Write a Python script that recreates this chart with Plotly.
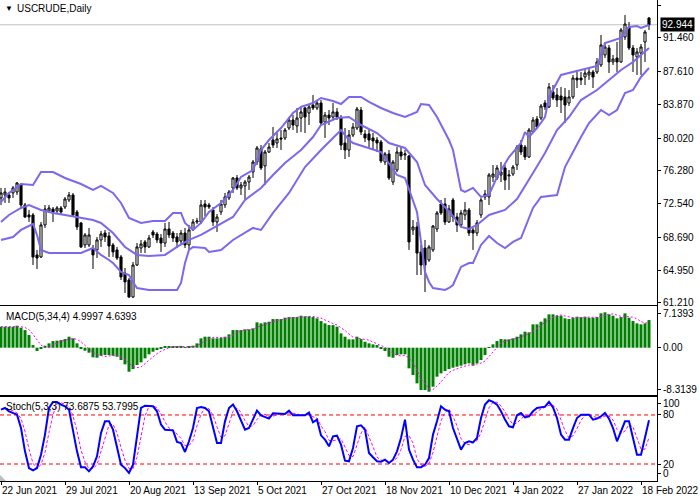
import plotly.graph_objects as go
import pandas as pd

# ---------------- data ----------------
open_ = [73.19,73.53,73.53,73.76,73.87,74.67,72.39,71.25,71.25,66.69,
         66.46,70.11,71.70,71.93,71.70,72.05,72.16,72.96,73.53,71.59,
         70.34,67.83,67.83,67.48,67.26,68.40,69.19,68.85,67.83,67.26,
         66.46,64.63,63.83,61.89,65.54,67.48,68.17,67.60,69.31,69.08,
         68.62,68.05,69.65,69.19,68.74,68.28,69.19,67.83,69.54,70.45,
         70.45,72.50,72.39,71.82,70.45,71.59,72.39,73.19,74.33,75.47,
         74.33,74.56,75.01,76.15,77.29,78.78,76.84,78.43,79.80,79.46,
         80.03,80.03,81.17,82.08,81.40,82.31,83.45,82.88,83.79,83.45,
         84.02,81.85,82.65,82.42,83.00,82.31,79.46,78.66,80.37,81.17,
         83.22,80.49,80.49,80.03,79.80,79.57,77.29,78.21,75.01,76.38,
         78.43,78.09,77.98,69.54,69.88,67.03,67.48,66.11,67.26,69.65,
         72.50,72.50,70.45,72.96,71.02,70.11,71.25,71.82,69.54,69.19,
         71.25,73.30,73.30,75.58,75.47,75.81,76.61,75.70,75.92,76.95,
         79.23,79.00,77.86,80.71,82.20,82.31,84.02,83.57,85.28,84.93,
         84.82,84.71,84.02,84.71,86.87,86.87,86.99,87.22,87.56,87.56,
         88.36,89.50,90.30,88.70,89.15,88.70,91.55,92.69,90.30,89.27,
         89.72,90.98,93.72]
high = [74.33,74.33,73.87,74.56,75.01,74.90,72.62,71.82,71.48,67.26,
        70.45,72.39,72.39,72.16,72.27,72.27,73.30,73.87,73.76,71.82,
        70.45,69.19,69.77,67.83,68.74,69.42,69.54,69.31,68.05,67.60,
        66.69,65.20,64.06,65.89,68.05,68.40,68.40,68.97,69.54,69.31,
        69.08,70.34,70.45,69.42,69.19,69.54,69.77,70.11,70.79,70.91,
        72.96,72.96,72.62,72.16,71.36,72.96,73.76,74.10,75.58,75.81,
        75.01,75.24,75.81,77.52,79.12,79.23,78.66,79.46,81.28,80.60,
        80.94,81.17,82.42,82.65,83.45,83.45,83.57,83.91,84.93,84.36,
        84.36,83.00,83.22,84.02,83.45,82.65,81.17,80.94,81.74,83.57,
        83.57,80.94,80.94,80.60,80.14,79.80,78.43,78.66,77.52,79.00,
        79.00,78.66,78.09,70.68,70.45,67.83,68.40,67.83,70.11,71.70,
        72.96,73.19,72.39,73.19,71.48,71.82,72.73,72.05,69.77,70.68,
        73.19,74.10,76.04,76.95,76.95,77.29,76.95,76.38,76.95,79.23,
        79.80,79.23,81.17,82.42,82.54,83.91,84.36,86.30,86.07,85.73,
        85.85,85.73,85.50,87.22,87.79,87.56,87.79,88.01,87.79,89.15,
        91.78,90.98,90.64,89.50,90.98,92.58,94.06,93.26,90.64,90.30,
        90.75,92.35,93.83]
low = [72.39,72.62,72.62,73.19,73.53,72.05,70.91,70.45,65.54,65.09,
       66.34,69.77,71.48,70.45,71.48,71.36,71.93,72.73,71.02,69.54,
       67.48,67.48,67.60,65.09,66.34,67.60,68.17,66.46,66.46,66.11,
       63.83,62.35,61.78,61.78,65.43,66.91,66.91,67.48,68.62,68.05,
       67.03,67.60,68.62,68.17,67.48,67.83,67.48,67.26,69.42,70.22,
       70.22,71.13,71.93,69.99,69.31,71.25,72.05,72.96,73.76,74.10,
       73.53,72.96,74.10,75.47,76.95,76.38,74.67,78.32,78.89,78.89,
       78.66,79.80,80.94,80.94,80.60,80.71,80.60,81.51,83.22,83.22,
       81.51,80.03,81.51,82.08,82.08,78.66,77.63,77.86,80.14,80.94,
       80.37,79.57,78.89,78.66,78.43,77.18,76.95,75.24,74.67,76.15,
       77.52,77.52,67.26,68.97,64.40,64.40,62.46,65.89,67.03,69.31,
       71.25,70.11,70.34,70.45,69.31,69.88,70.68,68.85,67.26,68.85,
       70.91,72.96,72.39,75.01,75.24,75.01,74.10,74.10,75.70,76.38,
       78.09,77.52,77.75,80.60,81.17,82.08,83.22,83.45,84.36,83.57,
       82.88,81.74,83.68,84.48,85.73,86.07,86.07,86.65,85.73,87.33,
       88.13,89.15,87.44,88.36,87.56,88.59,91.21,90.07,87.56,87.22,
       87.22,88.70,92.35]
close = [73.76,73.87,73.19,74.33,74.90,72.39,71.02,71.02,66.46,66.34,
         70.11,71.93,72.05,71.59,72.05,71.59,73.07,73.53,71.25,69.88,
         67.60,68.97,68.97,66.69,68.40,69.08,68.74,67.71,67.03,66.34,
         64.18,63.61,61.89,65.54,67.60,67.94,67.60,68.62,68.97,68.40,
         68.05,69.65,68.97,68.62,68.17,69.19,67.83,69.54,70.45,70.56,
         72.39,72.16,72.16,70.45,71.02,72.50,73.30,73.87,75.47,74.33,
         74.67,75.01,75.58,77.29,78.89,76.61,78.43,79.00,79.23,79.92,
         79.92,80.94,82.08,81.51,82.31,83.00,82.42,83.57,83.45,84.02,
         81.74,82.65,82.31,83.00,82.42,79.23,78.66,80.37,81.28,83.34,
         80.71,80.03,79.80,79.69,79.46,77.41,78.21,75.47,77.29,78.43,
         77.98,78.21,68.17,69.88,66.91,65.54,65.54,67.60,69.99,71.48,
         71.48,70.45,71.93,71.02,70.11,71.48,71.82,69.19,69.19,70.34,
         72.96,73.64,75.81,75.92,76.61,76.15,75.24,75.81,76.72,79.00,
         78.43,77.86,80.94,82.08,81.28,83.68,83.57,85.85,84.59,84.36,
         84.36,83.79,84.71,86.87,86.65,86.65,87.44,87.56,86.99,88.70,
         90.64,90.41,88.70,89.04,88.70,92.35,93.03,90.30,89.50,89.84,
         90.41,92.12,92.944]

# Bollinger bands (20,2): bar index -> level
upper_idx = [0,2,5,8,10,13,16,20,23,25,28,30,32,35,38,41,43,45,46,48,50,52,55,58,60,
             63,65,67,70,73,75,78,80,83,85,87,90,92,95,98,101,104,105,107,109,112,113,
             115,116,118,120,122,124,127,130,131,132,134,136,137,140,142,145,149,151,
             154,155,157,159,160,162]
upper_val = [72.73,73.76,74.78,74.67,76.15,76.15,75.47,74.78,74.10,74.56,73.76,72.62,
             70.91,70.34,70.56,70.56,71.48,71.48,70.34,69.54,70.34,71.59,72.62,74.10,
             75.58,76.38,78.66,79.80,81.17,82.88,83.57,84.02,84.59,84.25,83.91,84.71,
             84.71,84.14,83.45,82.88,82.42,83.00,83.91,83.79,82.42,79.80,78.66,74.10,
             73.87,74.33,73.30,73.53,75.58,77.86,79.46,80.71,80.14,81.17,82.42,84.71,
             87.22,87.44,87.79,88.24,90.87,91.32,91.44,92.69,92.80,92.58,92.92]
mid_idx = [0,2,5,7,10,13,16,20,23,25,28,31,34,37,41,44,47,50,53,55,58,61,65,68,71,
           75,78,80,84,87,90,94,97,101,104,106,109,111,113,115,117,119,122,126,129,
           133,136,139,142,145,149,152,155,158,160,162]
mid_val = [70.45,71.25,72.05,72.39,71.82,71.48,71.25,70.91,70.68,70.34,69.19,67.60,
           66.69,66.57,66.69,67.60,68.40,68.97,69.77,70.22,71.02,72.96,74.33,75.81,
           77.18,78.66,80.14,81.51,82.31,82.42,81.51,80.60,79.46,78.89,77.29,74.67,
           73.07,72.16,71.13,69.88,69.65,70.11,71.25,71.82,73.07,76.04,78.32,80.94,
           82.42,84.36,85.50,86.65,87.79,88.70,89.50,90.30]
low_idx = [0,3,5,8,9,10,12,20,23,25,27,28,30,32,33,34,37,44,45,46,47,48,51,52,55,
           58,63,65,68,72,76,80,85,87,88,91,95,99,101,104,105,106,107,108,111,112,
           113,114,115,117,118,120,122,124,126,128,130,133,135,139,141,145,147,150,
           152,154,156,158,160,162]
low_val = [68.40,68.74,69.54,70.22,68.97,67.26,66.91,66.91,67.48,66.69,66.11,65.77,
           64.75,64.40,63.61,62.92,62.69,62.69,63.49,65.77,67.26,67.60,67.48,67.03,
           67.26,68.40,69.77,69.54,71.48,73.76,76.72,78.66,80.94,79.80,79.46,79.00,
           78.43,75.81,75.47,71.59,68.40,64.75,63.61,62.92,62.69,62.92,63.26,64.40,
           65.32,65.77,65.77,67.83,68.85,68.05,67.48,68.17,68.62,72.05,73.30,73.53,
           76.72,80.14,81.74,83.22,82.65,83.22,85.16,85.50,86.99,88.01]

macd_main = [4.2,4.2,4.2,4.2,4.4,4.0,3.53,2.53,0.53,-0.67,
             -0.27,0.4,0.87,1.33,1.4,1.53,1.73,2.2,1.87,0.87,
             -0.27,-0.6,-1.0,-1.93,-2.0,-1.6,-1.47,-1.47,-1.6,-1.8,
             -2.47,-3.33,-4.8,-4.27,-3.47,-2.93,-2.13,-1.33,-0.8,-0.47,
             -0.13,0.27,0.33,0.27,0.33,0.27,-0.05,0.2,0.4,0.87,
             1.87,2.2,2.2,1.87,1.87,2.0,2.2,2.67,3.53,3.53,
             3.53,3.67,3.67,3.87,5.07,4.87,5.07,5.2,5.73,5.73,
             5.73,6.0,6.13,6.13,6.13,6.4,6.27,6.27,6.13,5.87,
             5.33,4.87,4.53,4.53,4.2,2.87,2.2,1.67,1.67,2.2,
             1.73,1.2,0.87,0.67,0.53,-0.13,-0.67,-1.8,-2.0,-1.47,
             -1.33,-1.33,-4.13,-5.47,-7.13,-8.47,-8.47,-8.8,-7.8,-5.8,
             -5.13,-4.67,-4.27,-4.0,-3.8,-3.6,-3.33,-3.13,-3.6,-3.13,
             -2.47,-1.47,0.05,0.67,1.33,1.73,1.67,1.67,1.87,2.2,
             2.67,3.2,3.07,4.67,4.67,5.2,5.87,6.67,6.67,6.4,
             6.4,5.87,5.73,6.0,6.2,6.13,6.2,6.0,6.0,6.13,
             6.87,7.07,6.67,6.4,5.87,6.13,6.87,6.0,5.33,4.87,
             4.67,4.87,5.53]
stoch_k = [86.5,88.6,84.5,82.4,80.4,64,35.5,15,12.2,15,
           31.4,56,88.6,96,96,92.7,90.6,86.5,60,35.5,
           15.9,15.9,11,17.1,29.4,58,72.2,72.2,62,39.6,
           19.2,15,9,19.2,56,88.6,91.4,91.4,90.6,84.5,
           68.2,62,62,61.2,47,45.7,34.7,47.8,64,88.6,
           89.8,88.6,84.5,66.1,45.7,45.7,72.2,88.6,92.7,84.5,
           72.2,62,64,74.3,85.3,79.6,77.6,75.5,82,82,
           81.2,81.2,85.3,79.6,79.6,79.6,79.6,82.9,71,74.3,
           55.1,49.8,41.6,53.9,54.7,43.7,24.1,23.3,39.6,66.1,
           67.3,62,33.5,28.2,23.3,22.9,25.3,21.2,25.3,35.5,
           51.8,74.3,37.6,25.3,15.9,15.9,19.2,27.3,56,72.2,
           90.6,86.5,84.5,64,51.8,37.6,45.7,47.8,46.5,51.8,
           76.3,92.7,98,96,92.7,84.5,74.3,66.1,64.9,79.6,
           82.4,77.1,78.4,84.5,88.6,89.4,90.2,96,89.4,76.3,
           56,49.8,49.8,64,76.3,80.4,80.8,80.4,74.3,75.5,
           78.4,82.4,75.5,64,47.8,60.8,72.2,72.2,51.8,31.4,
           31.4,51.8,73.5]

price_ticks = [95.2, 91.46, 87.61, 83.87, 80.02, 76.28, 72.54, 68.69, 64.95, 61.21]
price_tick_text = ["95.200", "91.460", "87.610", "83.870", "80.020", "76.280",
                   "72.540", "68.690", "64.950", "61.210"]
# MT4 keeps its scale labels inside the panel, so two labels sit a little inside
macd_tick_pos = [6.75, 0.0, -8.3139]
macd_tick_text = ["7.1393", "0.00", "-8.3139"]
stoch_tick_pos = [93.5, 80, 20, 7.8]
stoch_tick_text = ["100", "80", "20", "0"]
stoch_levels = [20, 80]
date_bars = [0, 16, 32, 48, 64, 80, 96, 112, 128, 144, 160]
date_labels = ["22 Jun 2021", "29 Jul 2021", "20 Aug 2021", "13 Sep 2021", "5 Oct 2021",
               "27 Oct 2021", "18 Nov 2021", "10 Dec 2021", "4 Jan 2022", "27 Jan 2022",
               "18 Feb 2022"]
last_price = 92.944

n = len(close)
bar_index = list(range(n))
# indicator signal lines (MACD signal = SMA4 of main, Stoch %D = SMA3 of %K)
macd_signal = pd.Series(macd_main).rolling(4, min_periods=1).mean().tolist()
stoch_d = pd.Series(stoch_k).rolling(3, min_periods=1).mean().tolist()

FONT = "Liberation Sans"
BAND = "#7B68EE"

fig = go.Figure()
fig.add_trace(go.Candlestick(
    x=bar_index, open=open_, high=high, low=low, close=close,
    increasing=dict(line=dict(color="black", width=1), fillcolor="white"),
    decreasing=dict(line=dict(color="black", width=1), fillcolor="black"),
    whiskerwidth=0, xaxis="x", yaxis="y", showlegend=False, hoverinfo="skip"))
for bx, by in ((upper_idx, upper_val), (mid_idx, mid_val), (low_idx, low_val)):
    fig.add_trace(go.Scatter(x=bx, y=by, mode="lines", line=dict(color=BAND, width=2),
                             xaxis="x", yaxis="y", showlegend=False, hoverinfo="skip"))

fig.add_trace(go.Bar(x=bar_index, y=macd_main, marker=dict(color="#008000", line=dict(width=0)),
                     xaxis="x2", yaxis="y2", showlegend=False, hoverinfo="skip"))
fig.add_trace(go.Scatter(x=bar_index, y=macd_signal, mode="lines",
                         line=dict(color="#FF00FF", width=1, dash="2px,2px"),
                         xaxis="x2", yaxis="y2", showlegend=False, hoverinfo="skip"))

fig.add_trace(go.Scatter(x=bar_index, y=stoch_d, mode="lines",
                         line=dict(color="#FF00FF", width=1, dash="3px,2px"),
                         xaxis="x3", yaxis="y3", showlegend=False, hoverinfo="skip"))
fig.add_trace(go.Scatter(x=bar_index, y=stoch_k, mode="lines",
                         line=dict(color="#0000FF", width=2),
                         xaxis="x3", yaxis="y3", showlegend=False, hoverinfo="skip"))

H_PLOT = 481.0
W_PLOT = 657.0
def yp(px):
    return 1 - px / H_PLOT

xcommon = dict(range=[-0.25, 164.0], showgrid=False, zeroline=False, showline=True,
               linecolor="black", linewidth=1, mirror=True, showticklabels=False,
               fixedrange=True)
ycommon = dict(showgrid=False, zeroline=False, showline=True, linecolor="black",
               linewidth=1, mirror=True, side="right", ticks="outside", ticklen=3,
               tickcolor="black", tickfont=dict(family=FONT, size=10, color="black"))

shapes = [
    dict(type="line", xref="x domain", yref="y", x0=0, x1=1, y0=last_price, y1=last_price,
         line=dict(color="#C0C0C0", width=1), layer="below"),
]
for lv in stoch_levels:
    shapes.append(dict(type="line", xref="x3 domain", yref="y3", x0=0, x1=1, y0=lv, y1=lv,
                       line=dict(color="#FF0000", width=1, dash="4px,3px"), layer="below"))
shapes.append(dict(type="path", xref="paper", yref="paper",
                   path=f"M 0 {yp(475)} L 0 {yp(481)} L {6/W_PLOT} {yp(481)} Z",
                   fillcolor="#BBBBBB", line=dict(width=0)))

annotations = [
    dict(text="▼", xref="paper", yref="paper", x=3 / W_PLOT, y=yp(8), xanchor="left",
         yanchor="middle", showarrow=False, font=dict(family=FONT, size=8, color="black")),
    dict(text="USCRUDE,Daily", xref="paper", yref="paper", x=15 / W_PLOT, y=yp(8),
         xanchor="left", yanchor="middle", showarrow=False,
         font=dict(family=FONT, size=10, color="black")),
    dict(text="MACD(5,34,4) 4.9997 4.6393", xref="paper", yref="paper", x=4 / W_PLOT,
         y=yp(316.5), xanchor="left", yanchor="middle", showarrow=False,
         font=dict(family=FONT, size=10, color="black")),
    dict(text="Stoch(5,3,3) 73.6875 53.7995", xref="paper", yref="paper", x=4 / W_PLOT,
         y=yp(406.5), xanchor="left", yanchor="middle", showarrow=False,
         font=dict(family=FONT, size=10, color="black")),
    dict(text=f"{last_price:.3f}", xref="paper", yref="y", x=660 / W_PLOT, y=last_price,
         xanchor="left", yanchor="middle", showarrow=False, bgcolor="black", borderpad=1,
         font=dict(family=FONT, size=10, color="white")),
]
for b, lab in zip(date_bars, date_labels):
    annotations.append(dict(text=lab, xref="x3", yref="paper", x=b, y=yp(490),
                            xanchor="left", yanchor="middle", showarrow=False, xshift=-1,
                            font=dict(family=FONT, size=10, color="black")))

fig.update_layout(
    width=700, height=500,
    margin=dict(l=0, r=43, t=0, b=19, pad=0),
    paper_bgcolor="white", plot_bgcolor="white",
    showlegend=False, boxmode="overlay", boxgap=0.25, bargap=0.25,
    xaxis=dict(**xcommon, domain=[0, 1], anchor="y", rangeslider=dict(visible=False)),
    xaxis2=dict(**xcommon, domain=[0, 1], anchor="y2", matches="x"),
    xaxis3=dict(**xcommon, domain=[0, 1], anchor="y3", matches="x", ticks="outside",
                ticklen=3, tickcolor="black", tickvals=date_bars),
    yaxis=dict(**ycommon, domain=[yp(305), 1], anchor="x", range=[60.98, 95.77],
               tickvals=price_ticks, ticktext=price_tick_text),
    yaxis2=dict(**ycommon, domain=[yp(395), yp(306)], anchor="x2", range=[-9.46, 8.34],
                tickvals=macd_tick_pos, ticktext=macd_tick_text),
    yaxis3=dict(**ycommon, domain=[0, yp(397)], anchor="x3", range=[-0.8, 102],
                tickvals=stoch_tick_pos, ticktext=stoch_tick_text),
    shapes=shapes, annotations=annotations,
)

fig.write_html("out.html", config={"displayModeBar": False},
               post_script="document.body.style.margin='0';document.body.style.overflow='hidden';")
